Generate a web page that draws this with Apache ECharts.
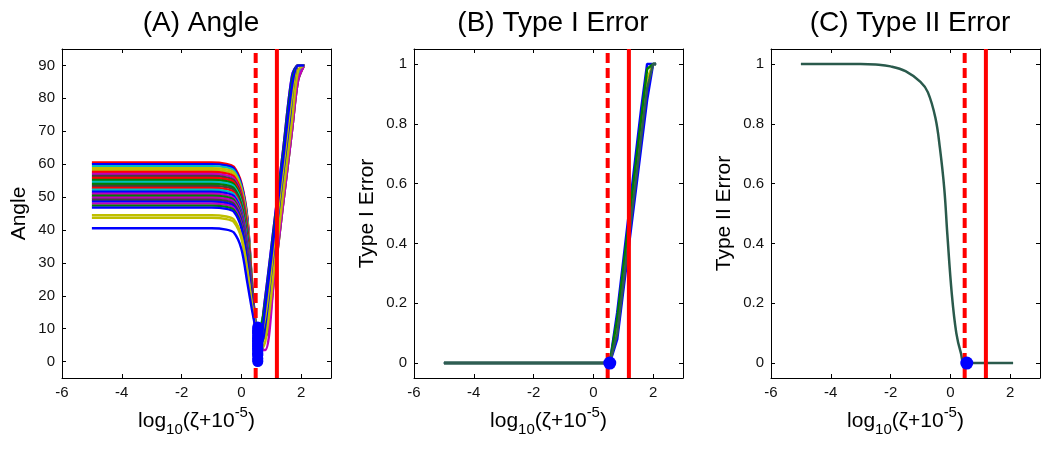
<!DOCTYPE html>
<html>
<head>
<meta charset="utf-8">
<script src="https://cdn.jsdelivr.net/npm/echarts@6/dist/echarts.min.js"></script>
<style>
html,body{margin:0;padding:0;background:#fff;}
#chart{width:1048px;height:456px;}
</style>
</head>
<body>
<div id="chart"></div>
<script>
// x positions, log10(zeta + 1e-5), shared by the angle curves
var zetaGrid = [-5, -1, -0.5, -0.25, 0, 0.2, 0.35, 0.45, 0.55, 0.8, 1.1, 1.4, 1.7, 1.9, 2.1];
var angleCurves = [
    [60.5, 60.5, 60.1, 59.2, 54.3, 44.0, 25.0, 14.0, 6, 15, 37.5, 60, 82.5, 90, 90],
    [60.0, 60.0, 59.6, 58.7, 53.8, 43.5, 24.8, 13.9, 9, 9, 27, 49.5, 72, 87, 90],
    [59.4, 59.4, 59.0, 58.1, 53.2, 42.9, 24.5, 13.8, 4, 18, 40.5, 63, 85.5, 90, 90],
    [58.8, 58.8, 58.4, 57.5, 52.6, 42.3, 24.2, 13.7, 10, 10, 25.5, 48, 70.5, 85.5, 90],
    [58.2, 58.2, 57.8, 56.9, 52.0, 41.7, 24.0, 13.7, 2, 12, 34.5, 57, 79.5, 90, 90],
    [57.6, 57.6, 57.2, 56.3, 51.4, 41.1, 23.7, 13.6, 7, 7.5, 30, 52.5, 75, 90, 90],
    [57.0, 57.0, 56.6, 55.7, 50.8, 40.5, 23.4, 13.5, 5, 19.5, 42, 64.5, 87, 90, 90],
    [56.4, 56.4, 56.0, 55.1, 50.2, 39.9, 23.2, 13.4, 8, 8, 28.5, 51, 73.5, 88.5, 90],
    [55.8, 55.8, 55.4, 54.5, 49.6, 39.3, 22.9, 13.3, 3, 15, 37.5, 60, 82.5, 90, 90],
    [55.2, 55.2, 54.8, 53.9, 49.0, 38.7, 22.6, 13.2, 6.5, 9, 31.5, 54, 76.5, 90, 90],
    [54.6, 54.6, 54.2, 53.3, 48.4, 38.1, 22.3, 13.1, 9.5, 16.5, 39, 61.5, 84, 90, 90],
    [54.0, 54.0, 53.6, 52.7, 47.8, 37.5, 22.1, 13.0, 1, 10.5, 33, 55.5, 78, 90, 90],
    [53.4, 53.4, 53.0, 52.1, 47.2, 36.9, 21.8, 12.9, 7.5, 7.5, 25.5, 48, 70.5, 85.5, 90],
    [52.8, 52.8, 52.4, 51.5, 46.6, 36.3, 21.5, 12.9, 4.5, 13.5, 36, 58.5, 81, 90, 90],
    [52.2, 52.2, 51.8, 50.9, 46.0, 35.7, 21.3, 12.8, 10.5, 10.5, 27, 49.5, 72, 87, 90],
    [51.6, 51.6, 51.2, 50.3, 45.4, 35.1, 21.0, 12.7, 2.5, 19.5, 42, 64.5, 87, 90, 90],
    [51.0, 51.0, 50.6, 49.7, 44.8, 34.5, 20.7, 12.6, 8.5, 8.5, 28.5, 51, 73.5, 88.5, 90],
    [50.4, 50.4, 50.0, 49.1, 44.2, 33.9, 20.5, 12.5, 5.5, 12, 34.5, 57, 79.5, 90, 90],
    [49.8, 49.8, 49.4, 48.5, 43.6, 33.3, 20.2, 12.4, 0.5, 16.5, 39, 61.5, 84, 90, 90],
    [49.2, 49.2, 48.8, 47.9, 43.0, 32.7, 19.9, 12.3, 6, 7.5, 30, 52.5, 75, 90, 90],
    [48.6, 48.6, 48.2, 47.3, 42.4, 32.1, 19.6, 12.2, 9, 13.5, 36, 58.5, 81, 90, 90],
    [48.0, 48.0, 47.6, 46.7, 41.8, 31.5, 19.4, 12.1, 3.5, 3.5, 25.5, 48, 70.5, 85.5, 90],
    [47.4, 47.4, 47.0, 46.1, 41.2, 30.9, 19.1, 12.0, 7, 18, 40.5, 63, 85.5, 90, 90],
    [46.8, 46.8, 46.4, 45.5, 40.6, 30.3, 18.8, 12.0, 4, 9, 31.5, 54, 76.5, 90, 90],
    [44.5, 44.5, 44.1, 43.2, 38.3, 28.0, 17.8, 11.6, 5, 13.5, 36, 58.5, 81, 90, 90],
    [43.7, 43.7, 43.3, 42.4, 37.5, 27.2, 17.4, 11.5, 2, 6, 28.5, 51, 73.5, 88.5, 90],
    [40.5, 40.5, 40.1, 39.2, 34.3, 24.0, 16.0, 11.0, 0, 16.5, 39, 61.5, 84, 90, 90]
];
var angleColors = ['#ff0000','#0000ff','#00bfbf','#bfbf00','#bfbf00','#ff0000','#bf00bf','#404040','#ff0000',
    '#008000','#00bfbf','#008000','#404040','#ff0000','#00bfbf','#0000ff','#bf00bf','#008000','#bf00bf',
    '#404040','#0000ff','#bf00bf','#008000','#0000ff','#bfbf00','#bfbf00','#0000ff'];

var typeIGrid = [-5, 0.55, 0.6, 0.8, 1.2, 1.6, 1.8, 2.0, 2.1];
var typeICurves = [
    [0, 0, 0, 0.17, 0.51, 0.85, 1, 1, 1],
    [0, 0, 0, 0.08, 0.40, 0.72, 0.88, 1, 1],
    [0, 0, 0, 0.124, 0.455, 0.785, 0.95, 1, 1],
    [0, 0, 0, 0.15, 0.483, 0.817, 0.983, 1, 1],
    [0, 0, 0, 0.098, 0.426, 0.754, 0.918, 1, 1]
];
var typeIColors = ['#0000ff', '#0000ff', '#bfbf00', '#008000', '#2e5d52'];
var typeIOptimum = [0.55, 0];

var typeIIGrid = [-5, -3, -2.5, -2, -1.5, -1, -0.75, -0.5, -0.35, -0.2, -0.1, 0.05, 0.2, 0.35, 0.5, 2.1];
var typeIIValues = [1, 1, 0.998, 0.992, 0.976, 0.94, 0.905, 0.82, 0.72, 0.58, 0.43, 0.23, 0.10, 0.035, 0, 0];
var typeIIOptimum = [0.55, 0];

var cutoffs = [0.48, 1.19];   // dashed, solid
var xTicks = [-6, -4, -2, 0, 2];
var angleTicks = [0, 10, 20, 30, 40, 50, 60, 70, 80, 90];
var errorTicks = [0, 0.2, 0.4, 0.6, 0.8, 1];
var panelTitles = ['(A) Angle', '(B) Type I Error', '(C) Type II Error'];
var yNames = ['Angle', 'Type I Error', 'Type II Error'];

var font = 'Liberation Sans, Arial, Helvetica, sans-serif';
var gridLefts = [62, 414, 771];
var yRanges = [[-5, 95], [-0.05, 1.05], [-0.05, 1.05]];
var yTickSets = [angleTicks, errorTicks, errorTicks];
var yNameGaps = [32, 36, 36];

var myChart = echarts.init(document.getElementById('chart'));

var grids = [], xAxes = [], yAxes = [], titles = [];
for (var i = 0; i < 3; i++) {
    grids.push({left: gridLefts[i], top: 49, width: 269, height: 329, containLabel: false});
    titles.push({
        text: panelTitles[i], left: gridLefts[i] + 134, top: 4, textAlign: 'center',
        textStyle: {fontFamily: font, fontSize: 28, fontWeight: 'normal', color: '#000'}
    });
    ['bottom', 'top'].forEach(function (pos) {
        xAxes.push({
            type: 'value', gridIndex: i, position: pos, min: -6, max: 3,
            axisLine: {show: true, onZero: false, lineStyle: {color: '#000', width: 1}},
            axisTick: {show: true, inside: true, length: 4, customValues: xTicks, lineStyle: {color: '#000'}},
            axisLabel: {show: pos == 'bottom', customValues: xTicks, fontSize: 15, color: '#111', margin: 7, fontFamily: font},
            splitLine: {show: false},
            name: pos == 'bottom' ? '{t|log}{s|10}{t|(ζ+10}{p|-5}{t|)}' : '',
            nameLocation: 'middle', nameGap: 26,
            nameTextStyle: {
                fontFamily: font, fontSize: 21, color: '#000',
                rich: {
                    t: {fontFamily: font, fontSize: 21, color: '#000', lineHeight: 32},
                    s: {fontFamily: font, fontSize: 15, color: '#000', lineHeight: 15, verticalAlign: 'bottom'},
                    p: {fontFamily: font, fontSize: 15, color: '#000', lineHeight: 15, verticalAlign: 'top'}
                }
            }
        });
    });
    ['left', 'right'].forEach(function (pos) {
        yAxes.push({
            type: 'value', gridIndex: i, position: pos, min: yRanges[i][0], max: yRanges[i][1],
            axisLine: {show: true, onZero: false, lineStyle: {color: '#000', width: 1}},
            axisTick: {show: true, inside: true, length: 4, customValues: yTickSets[i], lineStyle: {color: '#000'}},
            axisLabel: {show: pos == 'left', customValues: yTickSets[i], fontSize: 15, color: '#111', margin: 7, fontFamily: font},
            splitLine: {show: false},
            name: pos == 'left' ? yNames[i] : '',
            nameLocation: 'middle', nameGap: yNameGaps[i],
            nameTextStyle: {fontFamily: font, fontSize: 21, color: '#000'}
        });
    });
}

var series = [];
function addLine(axis, xs, ys, color, width, smooth) {
    series.push({
        type: 'line', xAxisIndex: axis * 2, yAxisIndex: axis * 2,
        data: xs.map(function (x, j) { return [x, ys[j]]; }),
        symbol: 'none', smooth: smooth, lineStyle: {color: color, width: width}, itemStyle: {color: color},
        z: 2, silent: true, animation: false
    });
}
function addCutoffs(axis) {
    var r = yRanges[axis];
    series.push({
        type: 'line', xAxisIndex: axis * 2, yAxisIndex: axis * 2,
        data: [[cutoffs[0], r[0]], [cutoffs[0], r[1]]], symbol: 'none',
        lineStyle: {color: '#ff0000', width: 4, type: [10, 5]}, z: 5, silent: true, animation: false
    });
    series.push({
        type: 'line', xAxisIndex: axis * 2, yAxisIndex: axis * 2,
        data: [[cutoffs[1], r[0]], [cutoffs[1], r[1]]], symbol: 'none',
        lineStyle: {color: '#ff0000', width: 4}, z: 5, silent: true, animation: false
    });
}
function addOptimum(axis, pts, size) {
    series.push({
        type: 'scatter', xAxisIndex: axis * 2, yAxisIndex: axis * 2, data: pts,
        symbol: 'circle', symbolSize: size, itemStyle: {color: '#0000ff', opacity: 1},
        z: 6, silent: true, animation: false
    });
}

// (A) angle
angleCurves.forEach(function (c, k) { addLine(0, zetaGrid, c, angleColors[k], 2.4, 0.3); });
addCutoffs(0);
addOptimum(0, angleCurves.map(function (c) {
    var m = Math.min.apply(null, c);
    return [zetaGrid[c.indexOf(m)], m];
}), 11);

// (B) type I error
typeICurves.forEach(function (c, k) { addLine(1, typeIGrid, c, typeIColors[k], 2.5, false); });
addCutoffs(1);
addOptimum(1, [typeIOptimum], 13);

// (C) type II error
addLine(2, typeIIGrid, typeIIValues, '#2a5a4c', 2.5, 0.4);
addCutoffs(2);
addOptimum(2, [typeIIOptimum], 13);

myChart.setOption({
    animation: false,
    backgroundColor: '#fff',
    title: titles,
    grid: grids,
    xAxis: xAxes,
    yAxis: yAxes,
    series: series
});
</script>
</body>
</html>
